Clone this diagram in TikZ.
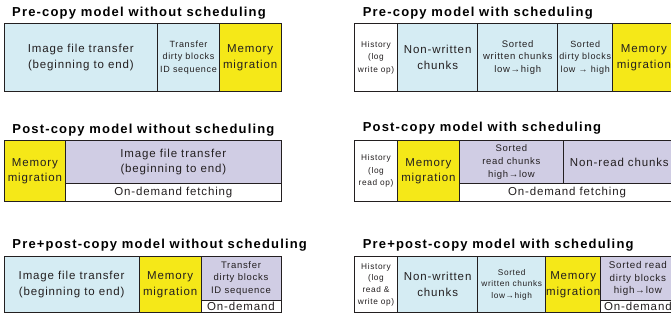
\documentclass[tikz,border=0pt]{standalone}
\usepackage{fontspec}
\setmainfont{Liberation Sans}
\newfontfamily\cellfont{Liberation Sans}[LetterSpace=7.5]
\newfontfamily\headfont{Liberation Sans}[LetterSpace=9]
\usetikzlibrary{positioning}

\definecolor{imgblue}{HTML}{D5ECF3}
\definecolor{memyellow}{HTML}{F5E818}
\definecolor{demandlav}{HTML}{D0CDE4}
\definecolor{inkgray}{HTML}{231F20}

\tikzset{
  heading/.style={anchor=west, inner sep=0pt, text=black,
    font=\headfont\bfseries\fontsize{13}{15}\selectfont},
  cell/.style={draw=inkgray, line width=0.9pt, anchor=north west, inner sep=0pt, outer sep=0pt,
    align=center, text=inkgray, font=\cellfont\fontsize{11.5}{15.5}\selectfont},
  smallcell/.style={cell, font=\cellfont\fontsize{9}{12.6}\selectfont},
  histcell/.style={cell, fill=white, font=\cellfont\fontsize{8.3}{12.5}\selectfont},
}

\begin{document}
\begin{tikzpicture}[x=1pt, y=-1pt]
  \clip (0,0) rectangle (671,320);

  % pre-copy, no scheduling
  \node[heading] (t1) at (12,12.7) {Pre-copy model without scheduling};
  \node[cell, fill=imgblue, minimum width=153.7pt, minimum height=68pt] (p1a) at (4,23.5)
    {Image file transfer\\(beginning to end)};
  \node[smallcell, fill=imgblue, minimum width=61.6pt, minimum height=68pt] (p1b) at (p1a.north east)
    {Transfer\\dirty blocks\\ID sequence};
  \node[cell, fill=memyellow, minimum width=61.7pt, minimum height=68pt] (p1c) at (p1b.north east)
    {Memory\\migration};

  % pre-copy, scheduled
  \node[heading] (t2) at (362.7,12.7) {Pre-copy model with scheduling};
  \node[histcell, minimum width=43.4pt, minimum height=68pt] (p2a) at (354.3,23.5)
    {History\\(log\\write op)};
  \node[cell, fill=imgblue, minimum width=80pt, minimum height=68pt] (p2b) at (p2a.north east)
    {Non-written\\chunks};
  \node[smallcell, fill=imgblue, font=\cellfont\fontsize{9.5}{12.8}\selectfont, minimum width=80pt, minimum height=68pt] (p2c) at (p2b.north east)
    {Sorted\\written chunks\\low→high};
  \node[smallcell, fill=imgblue, minimum width=55pt, minimum height=68pt] (p2d) at (p2c.north east)
    {Sorted\\dirty blocks\\low → high};
  \node[cell, fill=memyellow, minimum width=62.3pt, minimum height=68pt] (p2e) at (p2d.north east)
    {Memory\\migration};

  % post-copy, no scheduling
  \node[heading] (t3) at (12.3,130) {Post-copy model without scheduling};
  \node[cell, fill=memyellow, minimum width=61.7pt, minimum height=61pt] (p3a) at (4,140.7)
    {Memory\\migration};
  \node[cell, fill=demandlav, minimum width=215.3pt, minimum height=42.6pt] (p3b) at (p3a.north east)
    {Image file transfer\\(beginning to end)};
  \node[cell, fill=white, minimum width=215.3pt, minimum height=18.4pt] (p3c) at (p3b.south west)
    {On-demand fetching};

  % post-copy, scheduled
  \node[heading] (t4) at (362.7,128.3) {Post-copy model with scheduling};
  \node[histcell, minimum width=43.4pt, minimum height=61pt] (p4a) at (354.3,140.7)
    {History\\(log\\read op)};
  \node[cell, fill=memyellow, minimum width=61.3pt, minimum height=61pt] (p4b) at (p4a.north east)
    {Memory\\migration};
  \node[smallcell, fill=demandlav, font=\cellfont\fontsize{9.5}{12.8}\selectfont, minimum width=104.7pt, minimum height=42.6pt] (p4c) at (p4b.north east)
    {Sorted\\read chunks\\high→low};
  \node[cell, fill=demandlav, minimum width=111.3pt, minimum height=42.6pt] (p4d) at (p4c.north east)
    {Non-read chunks};
  \node[cell, fill=white, minimum width=216pt, minimum height=18.4pt] (p4e) at (p4c.south west)
    {On-demand fetching};

  % pre+post-copy, no scheduling
  \node[heading] (t5) at (12.3,245) {Pre+post-copy model without scheduling};
  \node[cell, fill=imgblue, minimum width=135.3pt, minimum height=55.6pt] (p5a) at (4,256.7)
    {Image file transfer\\(beginning to end)};
  \node[cell, fill=memyellow, minimum width=61.7pt, minimum height=55.6pt] (p5b) at (p5a.north east)
    {Memory\\migration};
  \node[smallcell, fill=demandlav, font=\cellfont\fontsize{9.5}{12.7}\selectfont, minimum width=80pt, minimum height=43.6pt] (p5c) at (p5b.north east)
    {Transfer\\dirty blocks\\ID sequence};
  \node[cell, fill=white, minimum width=80pt, minimum height=12pt] (p5d) at (p5c.south west)
    {On-demand};

  % pre+post-copy, scheduled
  \node[heading] (t6) at (362.7,245) {Pre+post-copy model with scheduling};
  \node[histcell, font=\cellfont\fontsize{8.3}{11.7}\selectfont, minimum width=43.4pt, minimum height=55.6pt] (p6a) at (354.3,256.7)
    {History\\(log\\read \&\\write op)};
  \node[cell, fill=imgblue, minimum width=80pt, minimum height=55.6pt] (p6b) at (p6a.north east)
    {Non-written\\chunks};
  \node[smallcell, fill=imgblue, font=\cellfont\fontsize{8.3}{11.5}\selectfont, minimum width=68pt, minimum height=55.6pt] (p6c) at (p6b.north east)
    {Sorted\\written chunks\\low→high};
  \node[cell, fill=memyellow, minimum width=55pt, minimum height=55.6pt] (p6d) at (p6c.north east)
    {Memory\\migration};
  \node[smallcell, fill=demandlav, font=\cellfont\fontsize{9.8}{12.7}\selectfont, minimum width=74.3pt, minimum height=43.6pt] (p6e) at (p6d.north east)
    {Sorted read\\dirty blocks\\high→low};
  \node[cell, fill=white, minimum width=74.3pt, minimum height=12pt] (p6f) at (p6e.south west)
    {On-demand};
\end{tikzpicture}
\end{document}
